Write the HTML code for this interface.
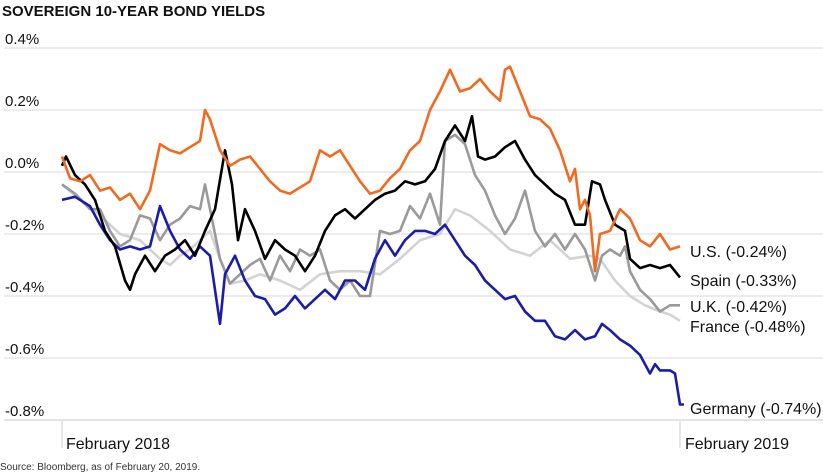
<!DOCTYPE html>
<html><head><meta charset="utf-8"><style>
body{margin:0;background:#fff;}
svg{display:block;font-family:"Liberation Sans",sans-serif;}
</style></head><body>
<svg id="c" width="823" height="475" viewBox="0 0 823 475">
<text x="2" y="16" font-size="15" font-weight="bold" fill="#111">SOVEREIGN 10-YEAR BOND YIELDS</text>
<g id="grid"></g>
<g id="series"></g>
<g id="labels"></g>
<line x1="62" y1="421" x2="62" y2="448" stroke="#ddd" stroke-width="1.5"/>
<line x1="680" y1="421" x2="680" y2="448" stroke="#ddd" stroke-width="1.5"/>
<text x="66" y="449" font-size="16" fill="#111">February 2018</text>
<text x="685" y="449" font-size="16" fill="#111">February 2019</text>
<text x="0" y="470" font-size="10" fill="#333">Source: Bloomberg, as of February 20, 2019.</text>
</svg>
<script>
const yTicks=[0.4,0.2,0,-0.2,-0.4,-0.6,-0.8];
const yTickLabels=["0.4%","0.2%","0.0%","-0.2%","-0.4%","-0.6%","-0.8%"];
const seriesNames=["U.S. (-0.24%)","Spain (-0.33%)","U.K. (-0.42%)","France (-0.48%)","Germany (-0.74%)"];
const usT=[0,8,18,28,38,48,58,68,78,88,98,108,118,128,138,143,148,158,168,178,188,198,208,218,228,238,248,258,268,278,288,298,308,318,328,338,348,358,368,378,388,398,408,418,428,438,443,448,458,468,478,488,498,508,513,518,523,528,533,538,548,558,568,578,588,598,608,618];
const usV=[0.05,-0.02,-0.03,-0.01,-0.06,-0.05,-0.09,-0.07,-0.12,-0.06,0.09,0.07,0.06,0.08,0.10,0.20,0.17,0.07,0.02,0.04,0.05,0.01,-0.03,-0.06,-0.07,-0.05,-0.03,0.07,0.05,0.07,0.02,-0.03,-0.07,-0.06,-0.02,0.01,0.07,0.10,0.20,0.26,0.33,0.26,0.27,0.30,0.26,0.23,0.33,0.34,0.26,0.18,0.17,0.14,0.07,-0.03,0.01,-0.12,-0.09,-0.14,-0.32,-0.20,-0.19,-0.12,-0.15,-0.22,-0.24,-0.20,-0.25,-0.24];
const esT=[0,4,13,23,33,43,53,63,68,73,83,93,103,113,123,133,143,153,163,170,176,183,193,203,213,223,233,243,253,263,273,283,293,303,313,323,333,343,353,363,373,383,393,403,410,416,423,433,443,453,463,473,483,493,503,513,523,530,538,543,553,563,568,578,588,598,608,618];
const esV=[0.02,0.05,-0.01,-0.04,-0.09,-0.19,-0.24,-0.35,-0.38,-0.33,-0.27,-0.32,-0.27,-0.25,-0.22,-0.27,-0.19,-0.12,0.07,-0.04,-0.22,-0.12,-0.19,-0.28,-0.22,-0.25,-0.27,-0.32,-0.27,-0.19,-0.14,-0.12,-0.15,-0.12,-0.09,-0.07,-0.06,-0.03,-0.04,-0.03,0.01,0.10,0.15,0.10,0.18,0.05,0.04,0.05,0.08,0.10,0.04,-0.01,-0.04,-0.07,-0.09,-0.17,-0.17,-0.03,-0.04,-0.09,-0.17,-0.19,-0.28,-0.31,-0.30,-0.31,-0.30,-0.34];
const ukT=[0,13,28,38,48,58,68,78,88,98,108,118,128,138,143,148,158,168,178,188,198,208,218,228,238,248,258,268,278,288,298,308,318,328,338,348,358,368,378,383,393,403,413,423,433,443,453,463,473,483,493,503,513,523,533,540,548,558,563,568,578,588,598,608,618];
const ukV=[-0.04,-0.07,-0.12,-0.12,-0.19,-0.24,-0.22,-0.14,-0.15,-0.22,-0.17,-0.15,-0.11,-0.12,-0.04,-0.12,-0.28,-0.36,-0.33,-0.30,-0.28,-0.35,-0.27,-0.32,-0.25,-0.27,-0.25,-0.35,-0.38,-0.35,-0.40,-0.40,-0.19,-0.20,-0.19,-0.11,-0.15,-0.07,-0.17,0.10,0.12,0.09,-0.01,-0.06,-0.14,-0.20,-0.15,-0.06,-0.19,-0.24,-0.20,-0.25,-0.20,-0.25,-0.35,-0.27,-0.25,-0.27,-0.24,-0.32,-0.38,-0.41,-0.45,-0.43,-0.43];
const frT=[0,18,38,58,78,98,108,118,128,138,148,158,168,183,198,218,238,258,278,298,318,338,358,378,393,408,428,448,468,488,508,528,538,553,568,583,598,608,618];
const frV=[-0.04,-0.09,-0.14,-0.20,-0.22,-0.28,-0.30,-0.27,-0.25,-0.22,-0.19,-0.28,-0.36,-0.35,-0.33,-0.35,-0.38,-0.33,-0.32,-0.32,-0.33,-0.28,-0.22,-0.20,-0.12,-0.14,-0.19,-0.25,-0.27,-0.22,-0.28,-0.27,-0.28,-0.35,-0.40,-0.43,-0.45,-0.46,-0.48];
const deT=[0,13,28,38,48,58,68,78,88,98,108,118,128,138,148,153,158,163,173,183,193,203,213,223,233,243,253,263,273,283,293,303,313,323,333,343,353,363,373,383,393,403,413,423,433,443,453,463,473,483,493,503,513,523,533,540,548,558,568,578,588,593,598,608,613,618,622];
const deV=[-0.09,-0.08,-0.11,-0.17,-0.22,-0.25,-0.24,-0.25,-0.24,-0.11,-0.19,-0.25,-0.28,-0.24,-0.27,-0.38,-0.49,-0.33,-0.27,-0.35,-0.40,-0.41,-0.46,-0.44,-0.40,-0.44,-0.41,-0.38,-0.41,-0.35,-0.35,-0.38,-0.28,-0.22,-0.27,-0.22,-0.19,-0.19,-0.20,-0.17,-0.22,-0.27,-0.30,-0.35,-0.38,-0.41,-0.40,-0.45,-0.48,-0.48,-0.53,-0.54,-0.51,-0.54,-0.53,-0.49,-0.51,-0.54,-0.56,-0.59,-0.65,-0.62,-0.64,-0.64,-0.65,-0.75,-0.75];

const NS="http://www.w3.org/2000/svg";
const X0=62,X1=680,T1=618;
function xs(t){return X0+(X1-X0)*t/T1;}
function ys(v){return 172-v*310;}
const grid=document.getElementById('grid');
yTicks.forEach((v,i)=>{
  const l=document.createElementNS(NS,'line');
  l.setAttribute('x1',4);l.setAttribute('x2',823);
  l.setAttribute('y1',ys(v));l.setAttribute('y2',ys(v));
  l.setAttribute('stroke',i===yTicks.length-1?'#dcdcdc':'#e6e6e6');
  l.setAttribute('stroke-width',1.5);
  
  
  grid.appendChild(l);
  const t=document.createElementNS(NS,'text');
  t.setAttribute('x',5);t.setAttribute('y',ys(v)-4);
  t.setAttribute('font-size',15);t.setAttribute('fill','#111');
  t.textContent=yTickLabels[i];
  
  
  grid.appendChild(t);
});
const defs=[
 [frT,frV,'#d3d3d3','france-line'],
 [ukT,ukV,'#9a9a9a','uk-line'],
 [deT,deV,'#1c1cab','germany-line'],
 [esT,esV,'#000000','spain-line'],
 [usT,usV,'#f26a21','us-line']];
const sg=document.getElementById('series');
defs.forEach(d=>{
  const p=document.createElementNS(NS,'path');
  p.setAttribute('d',d[0].map((t,i)=>(i?'L':'M')+xs(t).toFixed(1)+' '+ys(d[1][i]).toFixed(1)).join(''));
  p.setAttribute('fill','none');p.setAttribute('stroke',d[2]);
  p.setAttribute('stroke-width',2.6);p.setAttribute('stroke-linejoin','round');
  
  
  sg.appendChild(p);
});
const labelY=[257,286,312,332,414];
const lg=document.getElementById('labels');
seriesNames.forEach((n,i)=>{
  const t=document.createElementNS(NS,'text');
  t.setAttribute('x',690);t.setAttribute('y',labelY[i]);
  t.setAttribute('font-size',16);t.setAttribute('fill','#111');
  t.textContent=n;
  
  
  lg.appendChild(t);
});
</script>
</body></html>
